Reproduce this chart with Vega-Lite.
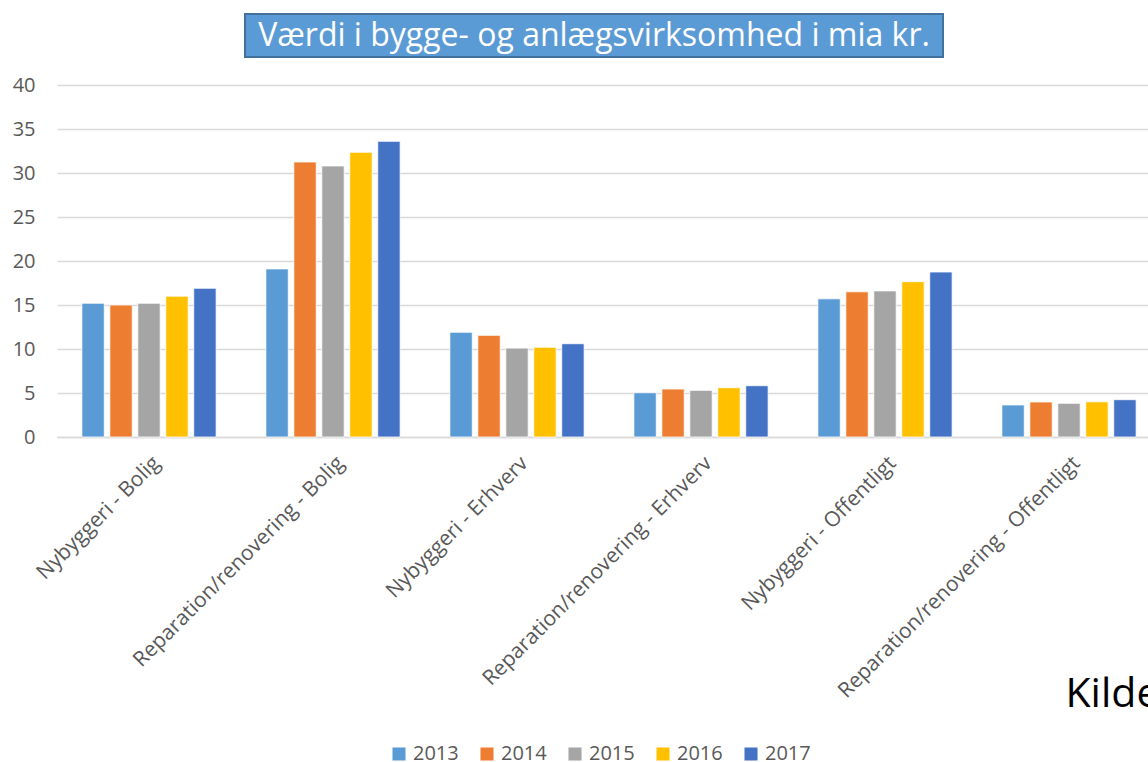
{
  "$schema": "https://vega.github.io/schema/vega-lite/v6.json",
  "padding": {"top": 13, "left": 12, "right": 0, "bottom": 0},
  "background": "white",
  "spacing": 17,
  "config": {
    "font": "Open Sans",
    "view": {"stroke": null}
  },
  "vconcat": [
    {
      "spacing": 0,
      "hconcat": [
        {
          "width": 187,
          "height": 43,
          "data": {"values": [{"t": ""}]},
          "mark": {"type": "text", "opacity": 0},
          "encoding": {"text": {"field": "t"}}
        },
        {
          "width": 698,
          "height": 43,
          "view": {"fill": "#5B9BD5", "stroke": "#41719C", "strokeWidth": 2},
          "data": {"values": [{"title": "Værdi i bygge- og anlægsvirksomhed i mia kr."}]},
          "mark": {"type": "text", "color": "white", "font": "Open Sans", "fontSize": 32, "baseline": "middle", "align": "center"},
          "encoding": {"text": {"field": "title"}}
        }
      ]
    },
    {
      "width": 1104,
      "height": 352,
      "data": {
        "values": [
          {"kategori": "Nybyggeri - Bolig", "aar": "2013", "vaerdi": 15.2},
          {"kategori": "Nybyggeri - Bolig", "aar": "2014", "vaerdi": 15.0},
          {"kategori": "Nybyggeri - Bolig", "aar": "2015", "vaerdi": 15.2},
          {"kategori": "Nybyggeri - Bolig", "aar": "2016", "vaerdi": 16.0},
          {"kategori": "Nybyggeri - Bolig", "aar": "2017", "vaerdi": 16.9},
          {"kategori": "Reparation/renovering - Bolig", "aar": "2013", "vaerdi": 19.1},
          {"kategori": "Reparation/renovering - Bolig", "aar": "2014", "vaerdi": 31.25},
          {"kategori": "Reparation/renovering - Bolig", "aar": "2015", "vaerdi": 30.8},
          {"kategori": "Reparation/renovering - Bolig", "aar": "2016", "vaerdi": 32.35},
          {"kategori": "Reparation/renovering - Bolig", "aar": "2017", "vaerdi": 33.6},
          {"kategori": "Nybyggeri - Erhverv", "aar": "2013", "vaerdi": 11.9},
          {"kategori": "Nybyggeri - Erhverv", "aar": "2014", "vaerdi": 11.55},
          {"kategori": "Nybyggeri - Erhverv", "aar": "2015", "vaerdi": 10.1},
          {"kategori": "Nybyggeri - Erhverv", "aar": "2016", "vaerdi": 10.2},
          {"kategori": "Nybyggeri - Erhverv", "aar": "2017", "vaerdi": 10.6},
          {"kategori": "Reparation/renovering - Erhverv", "aar": "2013", "vaerdi": 5.03},
          {"kategori": "Reparation/renovering - Erhverv", "aar": "2014", "vaerdi": 5.45},
          {"kategori": "Reparation/renovering - Erhverv", "aar": "2015", "vaerdi": 5.3},
          {"kategori": "Reparation/renovering - Erhverv", "aar": "2016", "vaerdi": 5.6},
          {"kategori": "Reparation/renovering - Erhverv", "aar": "2017", "vaerdi": 5.83},
          {"kategori": "Nybyggeri - Offentligt", "aar": "2013", "vaerdi": 15.7},
          {"kategori": "Nybyggeri - Offentligt", "aar": "2014", "vaerdi": 16.5},
          {"kategori": "Nybyggeri - Offentligt", "aar": "2015", "vaerdi": 16.6},
          {"kategori": "Nybyggeri - Offentligt", "aar": "2016", "vaerdi": 17.65},
          {"kategori": "Nybyggeri - Offentligt", "aar": "2017", "vaerdi": 18.75},
          {"kategori": "Reparation/renovering - Offentligt", "aar": "2013", "vaerdi": 3.64},
          {"kategori": "Reparation/renovering - Offentligt", "aar": "2014", "vaerdi": 3.98},
          {"kategori": "Reparation/renovering - Offentligt", "aar": "2015", "vaerdi": 3.83},
          {"kategori": "Reparation/renovering - Offentligt", "aar": "2016", "vaerdi": 4.0},
          {"kategori": "Reparation/renovering - Offentligt", "aar": "2017", "vaerdi": 4.24}
        ]
      },
      "mark": {"type": "bar", "stroke": "white", "strokeWidth": 0.8},
      "encoding": {
        "x": {
          "field": "kategori",
          "type": "nominal",
          "sort": null,
          "scale": {"paddingInner": 0.24, "paddingOuter": 0.12},
          "axis": {
            "title": "Kilde",
            "titleFont": "Open Sans",
            "titleFontSize": 41,
            "titleFontWeight": "normal",
            "titleColor": "black",
            "titleAnchor": "start",
            "titleAlign": "left",
            "titleBaseline": "alphabetic",
            "titleX": 1008,
            "titleY": 269,
            "labelAngle": -45,
            "labelFontSize": 21,
            "labelColor": "#595959",
            "labelPadding": 15,
            "labelLimit": 400,
            "ticks": false,
            "domain": true,
            "domainColor": "#D9D9D9",
            "domainWidth": 1.5,
            "grid": false
          }
        },
        "xOffset": {
          "field": "aar",
          "type": "nominal",
          "scale": {"paddingInner": 0.2, "paddingOuter": 0.1}
        },
        "y": {
          "field": "vaerdi",
          "type": "quantitative",
          "scale": {"domain": [0, 40], "nice": false},
          "axis": {
            "title": null,
            "values": [0, 5, 10, 15, 20, 25, 30, 35, 40],
            "labelFontSize": 20,
            "labelColor": "#595959",
            "labelPadding": 22,
            "ticks": false,
            "domain": false,
            "gridColor": "#D9D9D9",
            "gridWidth": 1.5
          }
        },
        "color": {
          "field": "aar",
          "type": "nominal",
          "scale": {
            "domain": ["2013", "2014", "2015", "2016", "2017"],
            "range": ["#5B9BD5", "#ED7D31", "#A5A5A5", "#FFC000", "#4472C4"]
          },
          "legend": {
            "title": null,
            "orient": "none",
            "legendX": 332,
            "legendY": 730,
            "direction": "horizontal",
            "symbolType": "square",
            "symbolSize": 170,
            "symbolStrokeWidth": 0,
            "labelFontSize": 20,
            "labelColor": "#595959",
            "columnPadding": 18
          }
        }
      }
    }
  ]
}
